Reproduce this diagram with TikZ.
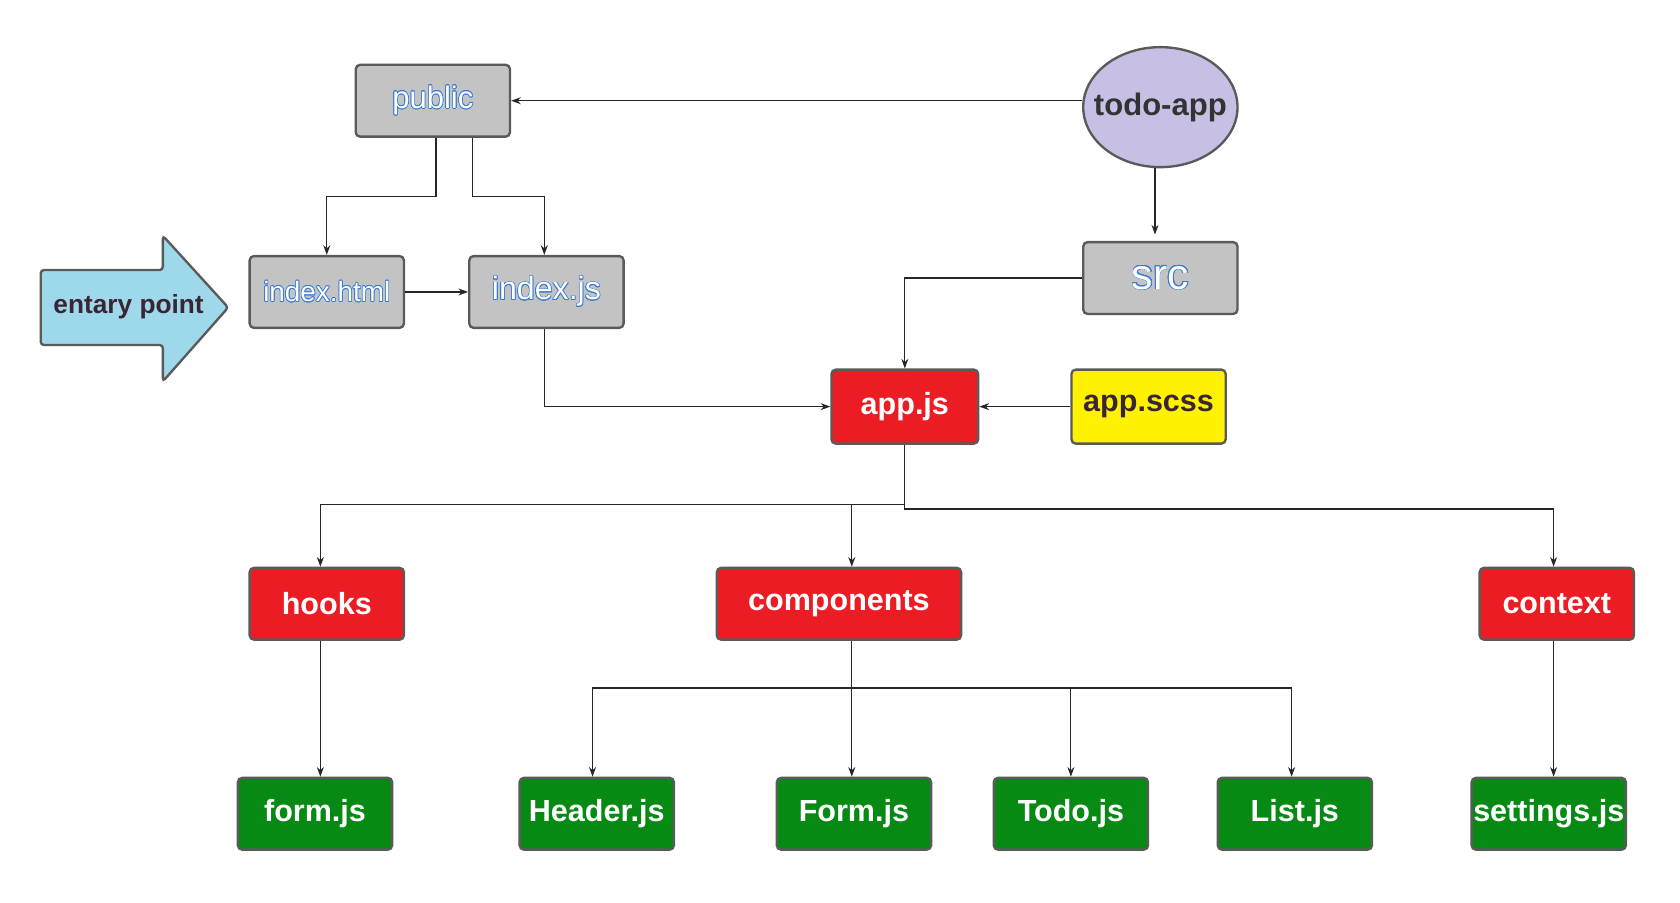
\documentclass[tikz,border=0pt]{standalone}
\usepackage{fontspec}
\setmainfont{Liberation Sans}
\usepackage{contour}
\usetikzlibrary{arrows.meta,shapes.geometric,calc}
\definecolor{boxgray}{HTML}{C3C3C3}
\definecolor{boxred}{HTML}{EC1C24}
\definecolor{boxgreen}{HTML}{068A14}
\definecolor{boxyellow}{HTML}{FFF200}
\definecolor{lav}{HTML}{C8C0E4}
\definecolor{skyb}{HTML}{9DD9EA}
\definecolor{edge}{HTML}{5A5A5A}
\definecolor{outl}{HTML}{3A7BD5}
\definecolor{darktext}{HTML}{3A2535}
\contourlength{0.6pt}
\contournumber{20}
\newcommand{\otext}[1]{\textcolor{white}{\contour{outl}{#1}}}
\newcommand{\fs}[1]{\fontsize{#1}{#1}\selectfont}
\tikzset{
  box/.style={rectangle, rounded corners=4pt, draw=edge, line width=2.2pt,
    minimum width=144pt, minimum height=67pt, inner sep=0pt},
  graybox/.style={box, fill=boxgray, font=\fs{29}},
  redbox/.style={box, fill=boxred, text=white, font=\bfseries\fs{28.5}},
  greenbox/.style={box, fill=boxgreen, text=white, font=\bfseries\fs{28.5}},
  arr/.style={-{Stealth[length=9pt,width=6.5pt]}, line width=1.1pt, draw=black!85},
}
\begin{document}
\begin{tikzpicture}[x=1pt,y=-1pt]
\useasboundingbox (0,0) rectangle (1568,842.8);
\fill[white] (0,0) rectangle (1568,842.8);

% entry arrow shape
\draw[fill=skyb, draw=edge, line width=2.2pt, rounded corners=3pt]
  (38,252) -- (152,252) -- (152,220) -- (213,287) -- (152,356) -- (152,322) -- (38,322) -- cycle;
\node[text=darktext, font=\bfseries\fs{24.5}] (entry) at (120,286) {entary point};

% top-level nodes
\node[graybox] (public) at (404,94) {\otext{public}};
\node[graybox, font=\fs{26}] (ihtml) at (305,272.5) {\otext{index.html}};
\node[graybox, font=\fs{30}] (indexjs) at (510,272.5) {\otext{index.js}};
\node[ellipse, fill=lav, draw=edge, line width=2.2pt, minimum width=144pt, minimum height=112pt,
  inner sep=0pt, inner xsep=-30pt, text=black!80, font=\bfseries\fs{29}] (todo) at (1083,100) {todo-app};
\node[graybox, font=\fs{40}] (src) at (1083,259.5) {\otext{src}};
\node[redbox, minimum width=137pt, minimum height=69pt] (appjs) at (844.5,379.5) {app.js};
\node[box, fill=boxyellow, minimum height=69pt, text=darktext, font=\bfseries\fs{28.5}] (appscss) at (1072,379.5) {app.scss};

% folders
\node[redbox] (hooks) at (305,563.5) {hooks};
\node[redbox, minimum width=228pt] (comp) at (783,563.5) {components};
\node[redbox] (context) at (1453,563.5) {context};

% files
\node[greenbox] (formjs) at (294,759.5) {form.js};
\node[greenbox] (header) at (557,759.5) {Header.js};
\node[greenbox] (Formjs) at (797,759.5) {Form.js};
\node[greenbox] (todojs) at (999.5,759.5) {Todo.js};
\node[greenbox] (listjs) at (1208.5,759.5) {List.js};
\node[greenbox] (settings) at (1445.5,759.5) {settings.js};

% connectors
\draw[arr] (todo.west |- public.east) -- (public.east);
\draw[arr] ([xshift=-5pt]todo.south) -- ([xshift=-5pt,yshift=6pt]src.north);
\draw[arr] ([xshift=3pt]public.south) -- ++(0,55) -| (ihtml.north);
\draw[arr] ([xshift=37pt]public.south) -- ++(0,55) -| ([xshift=-2pt]indexjs.north);
\draw[arr] (ihtml.east) -- (indexjs.west);
\draw[arr] ([xshift=-2pt]indexjs.south) |- (appjs.west);
\draw[arr] (src.west) -| (appjs.north);
\draw[arr] (appscss.west) -- (appjs.east);

\draw[arr] (appjs.south) -- ++(0,56) -| ([xshift=-6pt]hooks.north);
\draw[arr] (appjs.south) -- ++(0,56) -| ([xshift=12pt]comp.north);
\draw[arr] (appjs.south) -- ++(0,60) -| ([xshift=-3pt]context.north);

\draw[arr] ([xshift=-6pt]hooks.south) -- ([xshift=-6pt]hooks.south |- formjs.north);
\draw[arr] ([xshift=12pt]comp.south) -- ([xshift=12pt]comp.south |- Formjs.north);
\draw[arr] ([xshift=12pt]comp.south) -- ++(0,44) -| ([xshift=-4pt]header.north);
\draw[arr] ([xshift=12pt]comp.south) -- ++(0,44) -| (todojs.north);
\draw[arr] ([xshift=12pt]comp.south) -- ++(0,44) -| ([xshift=-3pt]listjs.north);
\draw[arr] ([xshift=-3pt]context.south) -- ([xshift=-3pt]context.south |- settings.north);
\end{tikzpicture}
\end{document}
